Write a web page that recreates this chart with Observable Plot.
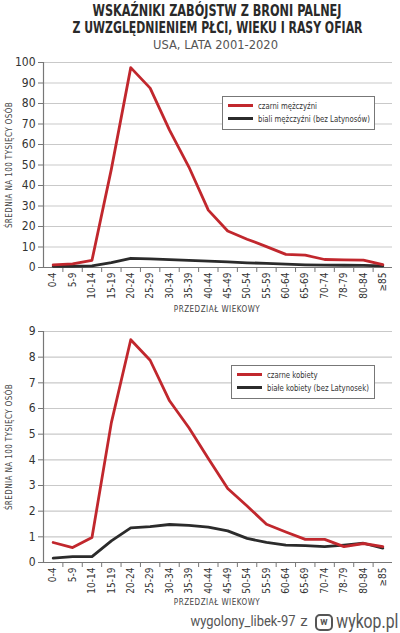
<!DOCTYPE html>
<html>
<head>
<meta charset="utf-8">
<script src="https://cdn.jsdelivr.net/npm/d3@7"></script>
<script src="https://cdn.jsdelivr.net/npm/@observablehq/plot@0.6"></script>
<style>
  html, body { margin: 0; padding: 0; background: #fff; }
  #page { position: relative; width: 400px; height: 633px; overflow: hidden; font-family: "Liberation Sans Narrow", "DejaVu Sans Condensed", sans-serif; color: #333; }
  .abs { position: absolute; white-space: nowrap; }
  .legend { background: #fff; border: 1px solid #777; font-size: 9.5px; color: #333; box-sizing: border-box; }
  .legend .row { position: absolute; left: 5px; display: flex; align-items: center; white-space: nowrap; }
  .legend .sw { width: 25px; height: 3px; margin-right: 5px; }
  .legend .lt { display: inline-block; transform-origin: left center; transform: scaleX(0.81); }
  .logo { box-sizing: border-box; border: 2.5px solid #555; border-radius: 5px; font-family: Roboto, sans-serif; font-size: 10px; line-height: 12px; text-align: center; font-weight: bold; color: #555; }
</style>
</head>
<body>
<div id="page"></div>
<script>
const ages = ["0-4","5-9","10-14","15-19","20-24","25-29","30-34","35-39","40-44","45-49","50-54","55-59","60-64","65-69","70-74","78-79","80-84","≥85"];

const blackMen   = [1.3, 1.8, 3.5, 48, 97.5, 87.5, 67, 49, 28, 17.8, 13.8, 10.2, 6.4, 6.0, 3.9, 3.7, 3.6, 1.4];
const whiteMen   = [0.6, 0.6, 0.8, 2.4, 4.5, 4.2, 3.8, 3.5, 3.1, 2.7, 2.3, 2.0, 1.6, 1.3, 1.2, 1.1, 1.0, 0.8];
const blackWomen = [0.78, 0.58, 0.97, 5.45, 8.68, 7.88, 6.3, 5.25, 4.05, 2.88, 2.2, 1.49, 1.19, 0.9, 0.9, 0.62, 0.74, 0.62];
const whiteWomen = [0.17, 0.23, 0.23, 0.84, 1.35, 1.4, 1.48, 1.45, 1.38, 1.23, 0.94, 0.78, 0.68, 0.66, 0.62, 0.68, 0.75, 0.56];

const menTicks = [0,10,20,30,40,50,60,70,80,90,100];
const womenTicks = [0,1,2,3,4,5,6,7,8,9];

const titleLines = ["WSKAŹNIKI ZABÓJSTW Z BRONI PALNEJ", "Z UWZGLĘDNIENIEM PŁCI, WIEKU I RASY OFIAR"];
const subtitle = "USA, LATA 2001-2020";
const yTitle = "ŚREDNIA NA 100 TYSIĘCY OSÓB";
const xTitle = "PRZEDZIAŁ WIEKOWY";
const menLegend = ["czarni mężczyźni", "biali mężczyźni (bez Latynosów)"];
const womenLegend = ["czarne kobiety", "białe kobiety (bez Latynosek)"];
const footerUser = "wygolony_libek-97";
const footerSite = "wykop.pl";

const RED = "#c1272d";
const DARK = "#2b2b2b";
const FONT = "'Liberation Sans Narrow', 'DejaVu Sans Condensed', sans-serif";

function chart(redVals, darkVals, ticks, opts) {
  const idx = ages.map((_, i) => i);
  const edges = d3.range(1, ages.length).map(i => i - 0.5);
  const redData = redVals.map((v, i) => ({i, v}));
  const darkData = darkVals.map((v, i) => ({i, v}));
  return Plot.plot({
    width: 400,
    height: opts.height,
    marginLeft: 43,
    marginRight: 8,
    marginTop: opts.marginTop,
    marginBottom: opts.marginBottom,
    style: {fontFamily: FONT, background: "transparent", color: "#333", overflow: "visible"},
    x: {type: "linear", domain: [-0.5, ages.length - 0.5]},
    y: {domain: [0, ticks[ticks.length - 1]]},
    marks: [
      Plot.gridY(ticks.slice(1), {stroke: "#c9c9c9", strokeOpacity: 1, strokeWidth: 1.2}),
      Plot.axisY(ticks, {tickSize: 5, tickPadding: 3, fontSize: 12, stroke: "#777", fill: "#333", label: null}),
      Plot.axisX(idx, {tickSize: 0, tickPadding: 5, tickRotate: -90, textAnchor: "end", fontSize: 10, fill: "#333",
        tickFormat: i => ages[i], label: null}),
      Plot.axisX(edges, {tickSize: 5, tickFormat: () => "", stroke: "#777", label: null}),
      Plot.ruleX([-0.5], {stroke: "#777", strokeWidth: 1.2}),
      Plot.ruleY([0], {stroke: "#777", strokeWidth: 1.2}),
      Plot.lineY(darkData, {x: "i", y: "v", stroke: DARK, strokeWidth: 2.8}),
      Plot.lineY(redData, {x: "i", y: "v", stroke: RED, strokeWidth: 2.8})
    ]
  });
}

const page = document.getElementById("page");

function addDiv(cls, text, style) {
  const d = document.createElement("div");
  d.className = "abs " + cls;
  if (text != null) d.textContent = text;
  Object.assign(d.style, style || {});
  page.appendChild(d);
  return d;
}

// text centered at cx, with its box top at top, horizontally scaled to a target width
function fitText(text, cx, top, css, targetWidth) {
  const d = addDiv("", text, Object.assign({top: top + "px", left: "0px", lineHeight: "1"}, css));
  const w = d.getBoundingClientRect().width;
  d.style.left = (cx - w / 2) + "px";
  if (targetWidth) {
    d.style.transformOrigin = "center";
    d.style.transform = `scaleX(${targetWidth / w})`;
  }
  return d;
}

fitText(titleLines[0], 217.5, 4, {fontSize: "15px", fontWeight: "bold", color: "#2a2a2a"}, 249);
fitText(titleLines[1], 217, 20.5, {fontSize: "15px", fontWeight: "bold", color: "#2a2a2a"}, 290);
fitText(subtitle, 215.5, 38, {fontSize: "13px", color: "#555"}, 125);

function place(svg, top) {
  const wrap = document.createElement("div");
  wrap.className = "abs";
  wrap.style.left = "0px";
  wrap.style.top = top + "px";
  wrap.appendChild(svg);
  page.appendChild(wrap);
}

place(chart(blackMen, whiteMen, menTicks, {height: 265, marginTop: 7, marginBottom: 53}), 55);
place(chart(blackWomen, whiteWomen, womenTicks, {height: 290, marginTop: 11, marginBottom: 48}), 320);

// axis titles
function yTitleAt(cy) {
  const d = fitText(yTitle, 10, 0, {fontSize: "8px", letterSpacing: "0.4px", color: "#444"});
  const h = d.getBoundingClientRect().height;
  d.style.top = (cy - h / 2) + "px";
  d.style.transformOrigin = "center";
  d.style.transform = "rotate(-90deg)";
}
yTitleAt(165);
yTitleAt(447);
fitText(xTitle, 217, 306, {fontSize: "8px", letterSpacing: "0.5px", color: "#444"});
fitText(xTitle, 217, 599, {fontSize: "8px", letterSpacing: "0.5px", color: "#444"});

function legend(labels, box) {
  const lg = addDiv("legend", null, {left: box.left + "px", top: box.top + "px", width: box.width + "px", height: box.height + "px"});
  [RED, DARK].forEach((c, k) => {
    const row = document.createElement("div");
    row.className = "row";
    row.style.top = (k === 0 ? 3 : 16) + "px";
    const sw = document.createElement("div");
    sw.className = "sw";
    sw.style.background = c;
    const t = document.createElement("span");
    t.className = "lt";
    t.textContent = labels[k];
    row.appendChild(sw);
    row.appendChild(t);
    lg.appendChild(row);
  });
}
legend(menLegend, {left: 222, top: 96, width: 153, height: 34});
legend(womenLegend, {left: 231, top: 365, width: 144, height: 34});

// footer
fitText(footerUser, 242.5, 614, {fontFamily: "Roboto, sans-serif", fontSize: "15px", color: "#555"}, 105);
fitText("z", 304, 614, {fontFamily: "Roboto, sans-serif", fontSize: "15px", color: "#555"});
addDiv("logo", "w", {left: "315px", top: "614px", width: "18px", height: "17px"});
fitText(footerSite, 367, 611, {fontFamily: "Roboto, sans-serif", fontSize: "20px", color: "#555"}, 62);
</script>
</body>
</html>
